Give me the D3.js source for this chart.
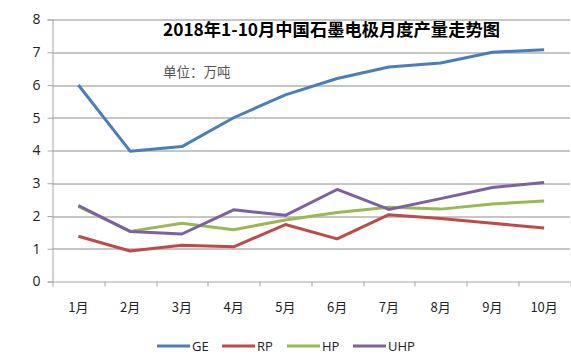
<!DOCTYPE html>
<html>
<head>
<meta charset="utf-8">
<script src="https://cdn.jsdelivr.net/npm/d3@7"></script>
<style>
  body { margin: 0; background: #fff; }
  text { font-family: "Noto Sans CJK SC", "Open Sans", sans-serif; }
</style>
</head>
<body>
<svg id="chart" width="571" height="363"></svg>
<script>
const months = ['1月', '2月', '3月', '4月', '5月', '6月', '7月', '8月', '9月', '10月']
const ge = [6.0, 3.98, 4.12, 5.0, 5.7, 6.2, 6.55, 6.67, 7.0, 7.08]
const rp = [1.38, 0.93, 1.11, 1.06, 1.74, 1.3, 2.04, 1.92, 1.78, 1.63]
const hp = [2.29, 1.53, 1.78, 1.58, 1.88, 2.11, 2.27, 2.21, 2.37, 2.46]
const uhp = [2.32, 1.53, 1.45, 2.19, 2.02, 2.81, 2.2, 2.53, 2.87, 3.02]
const yTicks = [0, 1, 2, 3, 4, 5, 6, 7, 8]

const series = [
  { name: 'GE', values: ge, color: '#4a7ebb' },
  { name: 'RP', values: rp, color: '#be4b48' },
  { name: 'HP', values: hp, color: '#98b954' },
  { name: 'UHP', values: uhp, color: '#7d60a0' }
]

const margin = { top: 19.5, right: 1, bottom: 81.5, left: 52.5 }
const svg = d3.select('#chart')
const width = 571 - margin.left - margin.right
const height = 363 - margin.top - margin.bottom

const x = d3.scaleBand().domain(months).range([0, width])
const y = d3.scaleLinear().domain([0, 8]).range([height, 0])

const g = svg.append('g').attr('transform', `translate(${margin.left}, ${margin.top})`)

// gridlines
g.selectAll('.grid')
  .data(yTicks.slice(1))
  .enter()
  .append('line')
    .attr('x1', 0)
    .attr('x2', width)
    .attr('y1', d => Math.round(y(d)) + 0.5)
    .attr('y2', d => Math.round(y(d)) + 0.5)
    .attr('stroke', '#8c8c8c')
    .attr('stroke-width', 1)

// y axis
const yAxis = g.append('g')
  .call(d3.axisLeft(y).tickValues(yTicks).tickSize(5).tickPadding(7))
yAxis.select('.domain').attr('stroke', '#a6a6a6')
yAxis.selectAll('.tick line').attr('stroke', '#a6a6a6')
yAxis.selectAll('.tick text')
  .attr('font-size', 14)
  .attr('fill', '#222')
  .style('font-family', '"Open Sans", sans-serif')

// x axis
const xTickPos = months.map((m, i) => i * x.bandwidth()).concat([width])
const xAxis = g.append('g').attr('transform', `translate(0, ${height})`)
xAxis.append('line')
  .attr('x1', 0).attr('x2', width)
  .attr('y1', 0.5).attr('y2', 0.5)
  .attr('stroke', '#a6a6a6')
xAxis.selectAll('.xtick')
  .data(xTickPos)
  .enter()
  .append('line')
    .attr('x1', d => Math.round(d) + 0.5)
    .attr('x2', d => Math.round(d) + 0.5)
    .attr('y1', 0)
    .attr('y2', 5)
    .attr('stroke', '#a6a6a6')
xAxis.selectAll('.xlabel')
  .data(months)
  .enter()
  .append('text')
    .attr('x', d => x(d) + x.bandwidth() / 2)
    .attr('y', 30)
    .attr('text-anchor', 'middle')
    .attr('font-size', 13)
    .attr('fill', '#222')
    .text(d => d)

// lines
const line = d3.line()
  .x((d, i) => x(months[i]) + x.bandwidth() / 2)
  .y(d => y(d))

g.selectAll('.series')
  .data(series)
  .enter()
  .append('path')
    .attr('fill', 'none')
    .attr('stroke', d => d.color)
    .attr('stroke-width', 3)
    .attr('stroke-linejoin', 'round')
    .attr('d', d => line(d.values))

// title
svg.append('text')
  .attr('x', 163)
  .attr('y', 36)
  .attr('font-size', 17.3)
  .attr('font-weight', 'bold')
  .attr('fill', '#000')
  .text('2018年1-10月中国石墨电极月度产量走势图')

svg.append('text')
  .attr('x', 163)
  .attr('y', 77)
  .attr('font-size', 13.5)
  .attr('fill', '#555')
  .text('单位：万吨')

// legend
const legendX = [157, 222, 287, 353]
const legend = svg.selectAll('.legend')
  .data(series)
  .enter()
  .append('g')
    .attr('transform', (d, i) => `translate(${legendX[i]}, 346)`)
legend.append('line')
  .attr('x1', 0).attr('x2', 33)
  .attr('y1', 0).attr('y2', 0)
  .attr('stroke', d => d.color)
  .attr('stroke-width', 3)
legend.append('text')
  .attr('x', 35)
  .attr('y', 5)
  .attr('font-size', 13)
  .attr('fill', '#222')
  .style('font-family', '"Open Sans", sans-serif')
  .text(d => d.name)
</script>
</body>
</html>
